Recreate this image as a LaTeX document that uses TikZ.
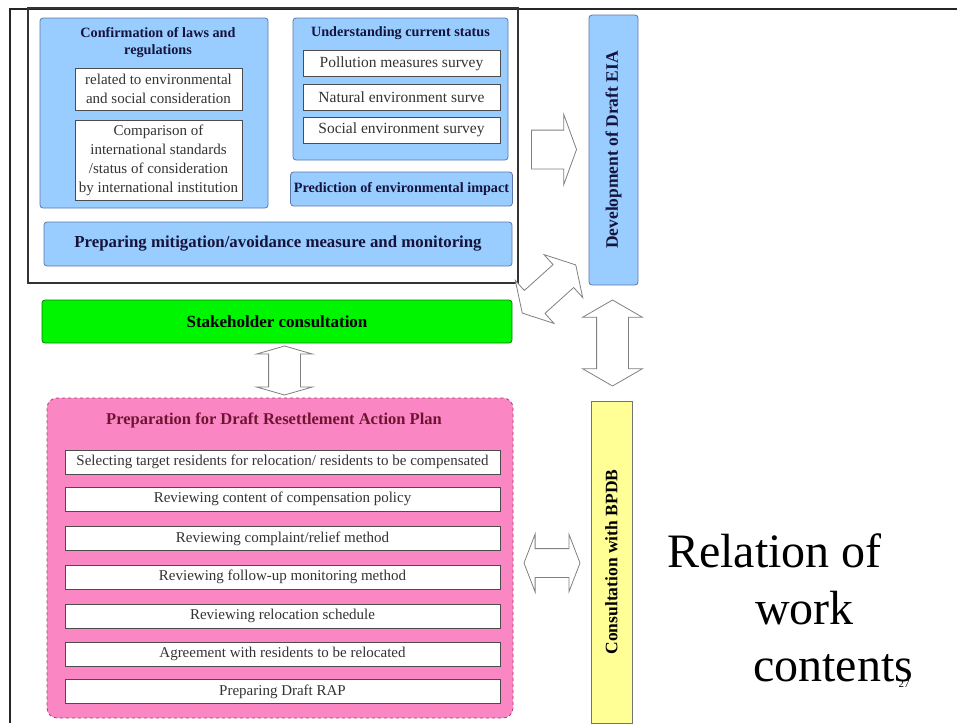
\documentclass[tikz,border=0pt]{standalone}
\usepackage{fontspec}
\setmainfont{Liberation Serif}
\usetikzlibrary{shapes, calc}

\definecolor{boxblue}{RGB}{153,204,255}
\definecolor{blueedge}{RGB}{90,120,170}
\definecolor{navy}{RGB}{20,20,60}
\definecolor{pinkfill}{RGB}{250,135,195}
\definecolor{pinkedge}{RGB}{170,60,110}
\definecolor{rapred}{RGB}{110,20,50}
\definecolor{paleyellow}{RGB}{255,255,150}
\definecolor{brightgreen}{RGB}{0,245,0}

\begin{document}
\begin{tikzpicture}[x=1pt, y=-1pt,
      frame/.style={draw=black!80, line width=1.5pt},
      bluebox/.style={draw=blueedge, fill=boxblue, rounded corners=3pt, line width=0.8pt, align=center, text=navy, font=\bfseries\fontsize{14.2}{17}\selectfont},
      head/.style={align=center, text=navy, font=\bfseries\fontsize{14.2}{17}\selectfont},
      whitebox/.style={draw=black!70, fill=white, line width=0.8pt, inner sep=0pt, align=center, text=black!80, font=\fontsize{15}{19}\selectfont},
      rowbox/.style={whitebox, minimum width=435pt, minimum height=24pt},
      barrow/.style={draw=gray, fill=white, line width=0.8pt, inner xsep=0pt}
    ]
      \useasboundingbox (0,0) rectangle (957,723);
      % slide edges
      \draw[line width=1.5pt, black!85] (10,723) -- (10,9) -- (957,9);

      % draft EIA work
      \node[frame, minimum width=490pt, minimum height=275pt] (eiaframe) at (273,145.5) {};
      \node[bluebox, minimum width=228pt, minimum height=190pt] (laws) at (154,113) {};
      \node[head] (lawstitle) at (158,43) {Confirmation of laws and\\regulations};
      \node[whitebox, minimum width=167pt, minimum height=42pt] (related) at (158.5,89) {related to environmental\\and social consideration};
      \node[whitebox, minimum width=167pt, minimum height=80pt] (compare) at (158.5,160) {Comparison of\\international standards\\/status of consideration\\by international institution};

      \node[bluebox, minimum width=215pt, minimum height=142pt] (status) at (400.5,89) {};
      \node[head] (statustitle) at (400.5,33) {Understanding current status};
      \node[whitebox, minimum width=197pt, minimum height=26pt, font=\fontsize{15.5}{19}\selectfont] (pollution) at (401.5,63.5) {Pollution measures survey};
      \node[whitebox, minimum width=197pt, minimum height=26pt, font=\fontsize{15.5}{19}\selectfont] (natural) at (401.5,97) {Natural environment surve};
      \node[whitebox, minimum width=197pt, minimum height=26pt, font=\fontsize{15.5}{19}\selectfont] (social) at (401.5,130) {Social environment survey};
      \node[bluebox, minimum width=219pt, minimum height=34pt] (predict) at (401.5,189) {Prediction of environmental impact};
      \node[bluebox, minimum width=468pt, minimum height=44pt, font=\bfseries\fontsize{16.8}{19}\selectfont] (mitigate) at (278,244) {Preparing mitigation/avoidance measure and monitoring};

      \node[bluebox, minimum width=49pt, minimum height=270pt] (eia) at (613.5,150) {};
      \node[head, rotate=90, font=\bfseries\fontsize{17.5}{20}\selectfont] (eiatext) at (eia.center) {Development of Draft EIA};

      % consultation
      \node[bluebox, fill=brightgreen, draw=green!50!black, text=black, minimum width=470pt, minimum height=43pt, font=\bfseries\fontsize{17}{20}\selectfont] (stake) at (277,321.5) {Stakeholder consultation};

      % resettlement plan
      \node[draw=pinkedge, fill=pinkfill, dashed, rounded corners=10pt, line width=0.8pt, minimum width=466pt, minimum height=320pt] (rap) at (280,558) {};
      \node[text=rapred, font=\bfseries\fontsize{16.5}{19}\selectfont] (raptitle) at (274,420) {Preparation for Draft Resettlement Action Plan};
      \node[rowbox] (select)   at (282.5,462) {Selecting target residents for relocation/ residents to be compensated};
      \node[rowbox] (policy)   at (282.5,499) {Reviewing content of compensation policy};
      \node[rowbox] (relief)   at (282.5,538.5) {Reviewing complaint/relief method};
      \node[rowbox] (monitor)  at (282.5,577) {Reviewing follow-up monitoring method};
      \node[rowbox] (schedule) at (282.5,616) {Reviewing relocation schedule};
      \node[rowbox] (agree)    at (282.5,654) {Agreement with residents to be relocated};
      \node[rowbox] (draftrap) at (282.5,691.5) {Preparing Draft RAP};

      \node[draw=black!55, fill=paleyellow, line width=0.8pt, minimum width=41pt, minimum height=322pt] (bpdb) at (611.5,562) {};
      \node[head, text=black, rotate=90, font=\bfseries\fontsize{17.5}{20}\selectfont] (bpdbtext) at (bpdb.center) {Consultation with BPDB};

      % block arrows
      \node[barrow, single arrow, inner ysep=19pt, minimum height=45pt, single arrow head extend=16pt, single arrow tip angle=140] (toeia) at (550.5,149.5) {};
      \node[barrow, double arrow, rotate=42, inner ysep=15pt, minimum height=72pt, double arrow head extend=13.5pt, double arrow tip angle=120] (frameeia) at (549,289) {};
      \node[barrow, double arrow, rotate=90, inner ysep=15.5pt, minimum height=86pt, double arrow head extend=14pt, double arrow tip angle=120] (eiabpdb) at ($(eia.south)!0.5!(bpdb.north)$) {};
      \node[barrow, double arrow, rotate=90, inner ysep=15.5pt, minimum height=49pt, double arrow head extend=12pt, double arrow tip angle=148] (stakerap) at ($(stake.south)!0.5!(rap.north)+(6,0)$) {};
      \node[barrow, double arrow, inner ysep=14pt, minimum height=56pt, double arrow head extend=14.5pt, double arrow tip angle=138] (rapbpdb) at ($(rap.east)!0.5!(bpdb.west)+(0,3)$) {};

      % slide title
      \node[anchor=base west, font=\fontsize{48}{50}\selectfont, inner sep=0pt] (rel1) at (667,567) {Relation of};
      \node[anchor=base west, font=\fontsize{48}{50}\selectfont, inner sep=0pt] (rel2) at (755,624) {work};
      \node[anchor=base west, font=\fontsize{48}{50}\selectfont, inner sep=0pt] (rel3) at (753,681) {contents};
      \node[font=\fontsize{11}{12}\selectfont, inner sep=0pt] (pagenum) at (904,684) {27};
    \end{tikzpicture}
\end{document}
